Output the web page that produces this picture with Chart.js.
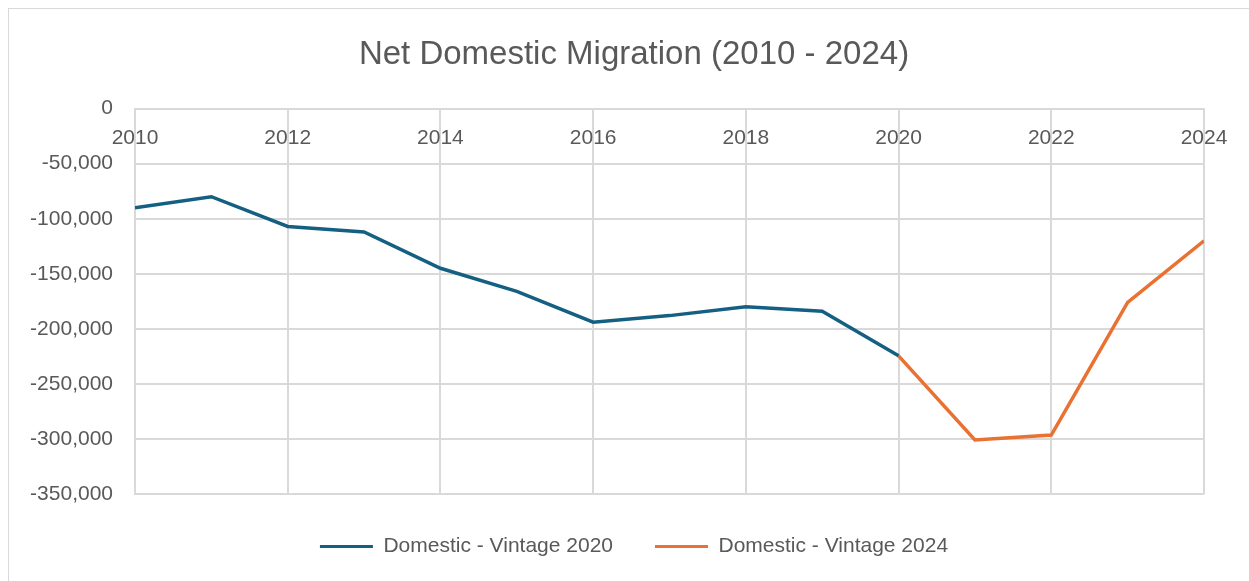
<!DOCTYPE html>
<html>
<head>
<meta charset="utf-8">
<script src="https://cdn.jsdelivr.net/npm/chart.js@4"></script>
<style>
  html, body { margin: 0; padding: 0; background: #fff; overflow: hidden; }
  #frame { position: absolute; left: 8px; top: 8px; width: 1300px; height: 700px; border: 1px solid #d9d9d9; }
  #wrap { position: absolute; left: 0; top: 0; width: 1268px; height: 581px; }
</style>
</head>
<body>
<div id="frame"></div>
<div id="wrap"><canvas id="migration"></canvas></div>
<script>
const years = [2010, 2011, 2012, 2013, 2014, 2015, 2016, 2017, 2018, 2019, 2020, 2021, 2022, 2023, 2024];
const vintage2020 = [-90000, -80000, -107000, -112000, -145000, -166000, -194000, -188000, -180000, -184000, -224500, null, null, null, null];
const vintage2024 = [null, null, null, null, null, null, null, null, null, null, -224500, -301000, -296500, -176000, -120000];
const xTicks = [2010, 2012, 2014, 2016, 2018, 2020, 2022, 2024];
const yTicks = [0, -50000, -100000, -150000, -200000, -250000, -300000, -350000];

const FONT = "'Liberation Sans', Arial, sans-serif";
const GREY = '#595959';
const GRID = '#d9d9d9';

const toPoints = vals => years.map((y, i) => ({ x: y, y: vals[i] })).filter(p => p.y !== null);

(() => {
  const el = document.getElementById('migration');

  new Chart(el, {
    type: 'line',
    data: {
      datasets: [
        { label: 'Domestic - Vintage 2020', data: toPoints(vintage2020),
          borderColor: '#156082', backgroundColor: '#156082', borderWidth: 3.5, pointRadius: 0, tension: 0 },
        { label: 'Domestic - Vintage 2024', data: toPoints(vintage2024),
          borderColor: '#E97132', backgroundColor: '#E97132', borderWidth: 3.5, pointRadius: 0, tension: 0 }
      ]
    },
    options: {
      responsive: true,
      maintainAspectRatio: false,
      animation: false,
      layout: { padding: { left: 0, right: 0, top: 0, bottom: 14 } },
      plugins: {
        title: {
          display: true,
          text: 'Net Domestic Migration (2010 - 2024)',
          color: GREY,
          font: { family: FONT, size: 33, weight: 'normal' },
          padding: { top: 35, bottom: 34 }
        },
        legend: {
          position: 'bottom',
          labels: {
            color: GREY,
            font: { family: FONT, size: 21 },
            boxWidth: 53,
            boxHeight: 3,
            padding: 42,
            generateLabels: chart => Chart.defaults.plugins.legend.labels.generateLabels(chart)
              .map(l => ({ ...l, lineWidth: 0 }))
          }
        },
        tooltip: { enabled: false }
      },
      scales: {
        x: {
          type: 'linear',
          position: { y: 0 },
          min: 2010,
          max: 2024,
          afterBuildTicks: s => { s.ticks = xTicks.map(v => ({ value: v })); },
          ticks: {
            color: GREY,
            font: { family: FONT, size: 21 },
            padding: 17,
            autoSkip: false,
            maxRotation: 0,
            callback: v => String(v)
          },
          grid: { color: GRID, lineWidth: 2, drawTicks: false },
          border: { color: GRID, width: 2 }
        },
        y: {
          min: -350000,
          max: 0,
          afterBuildTicks: s => { s.ticks = yTicks.map(v => ({ value: v })); },
          afterFit: s => { s.width = 135; },
          ticks: {
            color: GREY,
            font: { family: FONT, size: 21 },
            padding: 22,
            callback: v => v.toLocaleString('en-US')
          },
          grid: { color: GRID, lineWidth: 2, drawTicks: false },
          border: { color: GRID, width: 2 }
        },
        // empty right-hand axis, only reserves space so the title sits where it does in the original
        spacer: {
          type: 'linear',
          position: 'right',
          min: -350000,
          max: 0,
          afterFit: s => { s.width = 64; },
          ticks: { display: false },
          grid: { display: false, drawTicks: false },
          border: { display: false }
        }
      }
    }
  });
})();
</script>
</body>
</html>
